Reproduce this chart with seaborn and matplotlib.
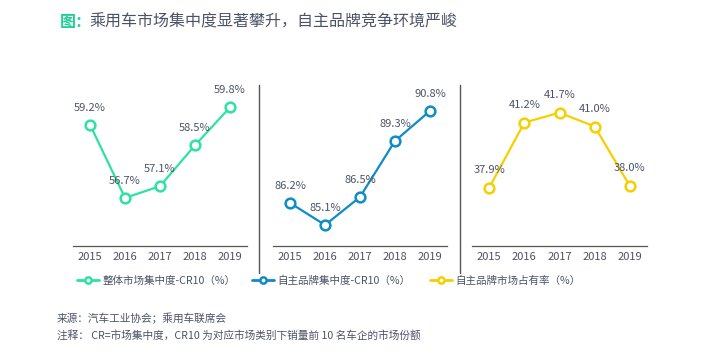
import matplotlib
matplotlib.use("Agg")
import matplotlib.pyplot as plt
import seaborn as sns
import pandas as pd
from matplotlib.lines import Line2D

sns.set_theme(style="white")
plt.rcParams["font.family"] = ["Noto Sans CJK SC", "DejaVu Sans"]

# ---------------------------------------------------------------------
# data
# ---------------------------------------------------------------------
years = ["2015", "2016", "2017", "2018", "2019"]
overall_cr10 = [59.2, 56.7, 57.1, 58.5, 59.8]
domestic_cr10 = [86.2, 85.1, 86.5, 89.3, 90.8]
domestic_share = [37.9, 41.2, 41.7, 41.0, 38.0]

series_names = ["整体市场集中度-CR10（%）", "自主品牌集中度-CR10（%）", "自主品牌市场占有率（%）"]
colors = ["#2de2a3", "#0f8cc7", "#f5d000"]
ylims = [(55.05, 60.5), (84.05, 92.0), (34.95, 43.0)]

title_main = "乘用车市场集中度显著攀升，自主品牌竞争环境严峻"
source_note = "来源：汽车工业协会；乘用车联席会"
remark_note = "注释： CR=市场集中度，CR10 为对应市场类别下销量前 10 名车企的市场份额"

TEXT = "#4b5366"
W, H = 720, 358

fig = plt.figure(figsize=(W / 100, H / 100), dpi=100)

# panel geometry in pixels (left, width); shared bottom / top
panels = [(73, 174), (273, 174), (472, 175)]
legend_x = [77, 252, 430]
bottom_px, top_px = 246, 87

all_values = [overall_cr10, domestic_cr10, domestic_share]
for k, (vals, name, col, ylim) in enumerate(zip(all_values, series_names, colors, ylims)):
    left, width = panels[k]
    ax = fig.add_axes([left / W, 1 - bottom_px / H, width / W, (bottom_px - top_px) / H])
    df = pd.DataFrame({"x": range(len(years)), "v": vals})
    sns.lineplot(data=df, x="x", y="v", ax=ax, color=col, linewidth=1.6,
                 marker="o", markersize=7, markerfacecolor="white",
                 markeredgecolor=col, markeredgewidth=1.8, label=name)
    for i, v in enumerate(vals):
        ax.annotate(f"{v:.1f}%", (i, v), xytext=(0, 12.5), textcoords="offset points",
                    ha="center", va="center", fontsize=8, color=TEXT)
    ax.set_xlim(-0.49, 4.49)
    ax.set_ylim(*ylim)
    ax.set_xticks(range(len(years)))
    ax.set_xticklabels(years, fontsize=8, color=TEXT)
    ax.tick_params(axis="x", length=0, pad=4)
    ax.set_yticks([])
    ax.set_xlabel("")
    ax.set_ylabel("")
    for s in ["top", "left", "right"]:
        ax.spines[s].set_visible(False)
    ax.spines["bottom"].set_color("#555555")
    ax.spines["bottom"].set_linewidth(0.9)
    ax.set_facecolor("none")
    leg = ax.legend(loc="center left", bbox_to_anchor=(legend_x[k] / W, 1 - 281 / H),
                    bbox_transform=fig.transFigure, frameon=False, fontsize=7.6,
                    handlelength=2.1, handletextpad=0.3, borderpad=0, borderaxespad=0)
    for t in leg.get_texts():
        t.set_color(TEXT)
    for h in leg.legend_handles:
        h.set_markersize(4.5)
        h.set_linewidth(2.0)

# vertical separators between panels
for xs in [259, 460]:
    fig.add_artist(Line2D([xs / W, xs / W], [1 - 85 / H, 1 - 273 / H],
                          transform=fig.transFigure, color="#555555", linewidth=1.0))

# title
fig.text(60 / W, 1 - 22 / H, "图：", fontsize=11.5, color="#1fcf95", va="center", ha="left",
         fontweight="bold")
fig.text(90 / W, 1 - 22 / H, title_main, fontsize=11.5, color=TEXT, va="center", ha="left",
         fontweight="medium")

# notes
fig.text(57 / W, 1 - 318 / H, source_note, fontsize=7.7, color=TEXT, va="center", ha="left")
fig.text(57 / W, 1 - 335 / H, remark_note, fontsize=7.7, color=TEXT, va="center", ha="left")

fig.savefig("out.png", dpi=100)
